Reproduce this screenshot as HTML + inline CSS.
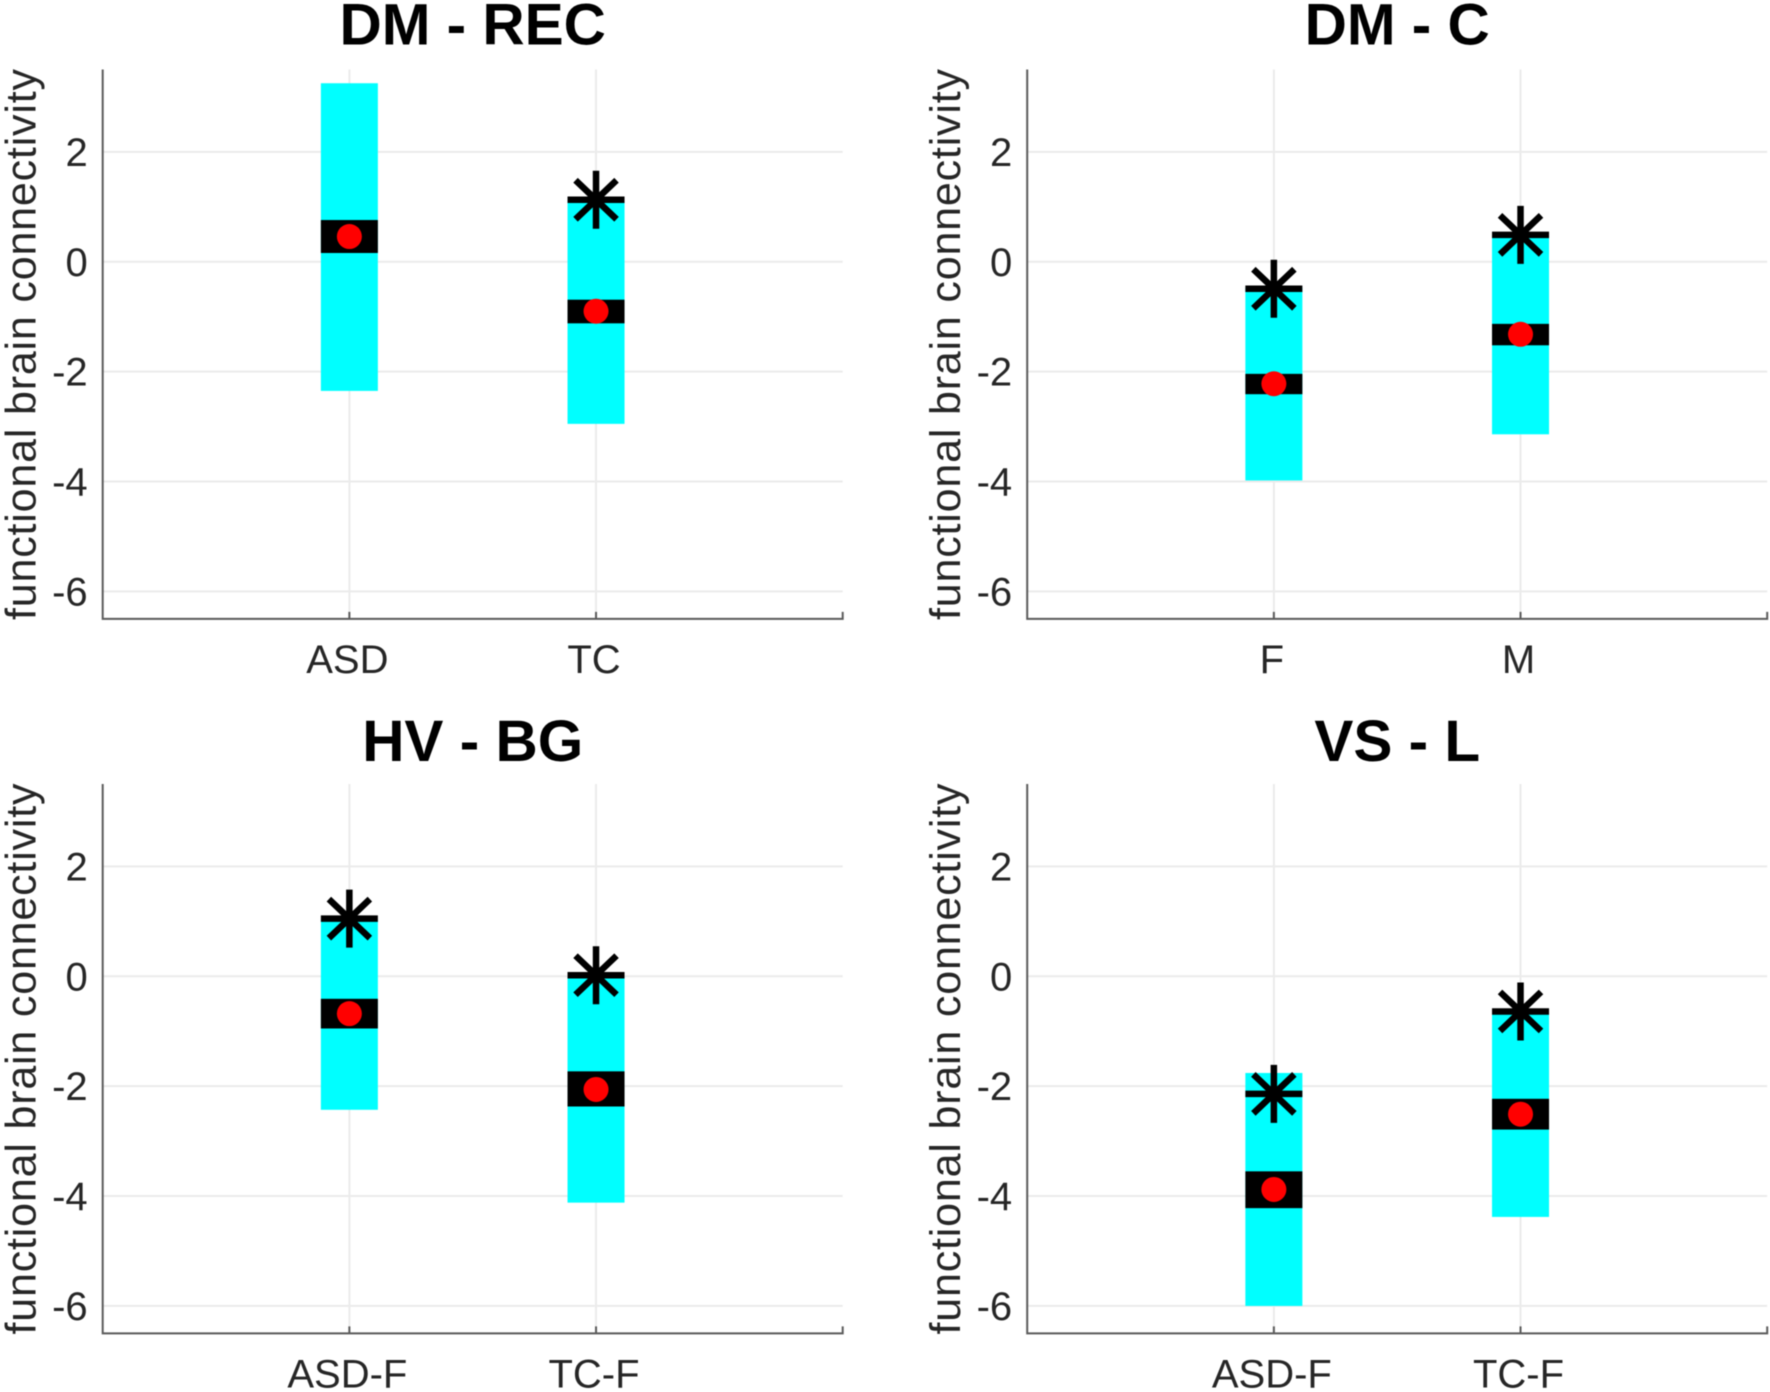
<!DOCTYPE html>
<html lang="en">
<head>
<meta charset="utf-8">
<title>Functional brain connectivity panels</title>
<style>
  html, body { margin: 0; padding: 0; background: #fff; }
  svg { display: block; font-family: "Liberation Sans", sans-serif; filter: blur(0.5px); }
</style>
</head>
<body>
<svg id="figure" xmlns="http://www.w3.org/2000/svg" width="1770" height="1392" viewBox="0 0 1770 1392"></svg>
<script>
// Data. One inner array per panel, one value per category.
const panelTitles = ["DM - REC", "DM - C", "HV - BG", "VS - L"];
const categories = [["ASD", "TC"], ["F", "M"], ["ASD-F", "TC-F"], ["ASD-F", "TC-F"]];
const rangeLow = [[-2.35, -2.95], [-3.98, -3.14], [-2.43, -4.12], [-6.0, -4.38]];
const rangeHigh = [[3.25, 1.1], [-0.47, 0.49], [1.03, 0.0], [-1.76, -0.66]];
const bandLow = [[0.16, -1.12], [-2.41, -1.52], [-0.95, -2.37], [-4.22, -2.79]];
const bandHigh = [[0.76, -0.69], [-2.04, -1.13], [-0.41, -1.73], [-3.55, -2.23]];
const means = [[0.46, -0.9], [-2.22, -1.32], [-0.68, -2.06], [-3.88, -2.51]];
const stars = [[null, 1.13], [-0.49, 0.49], [1.05, 0.02], [-2.14, -0.64]];
const yTickValues = [-6, -4, -2, 0, 2];
const yAxisTitle = "functional brain connectivity";
const yLimits = [-6.5, 3.5];
const xLimits = [0, 3];

// Layout of the figure
const columnLeft = [102.7, 1027.2];
const rowTop = [69.5, 784];
const titleOffset = [25, 23];
const plotWidth = 740;
const plotHeight = 549.4;
const barWidth = 57;
const NS = "http://www.w3.org/2000/svg";
const svg = document.getElementById("figure");

function node(parent, tag, attrs, text) {
  const el = document.createElementNS(NS, tag);
  for (const key in attrs) el.setAttribute(key, attrs[key]);
  if (text !== undefined) el.textContent = text;
  parent.appendChild(el);
  return el;
}

panelTitles.forEach(function (title, p) {
  const row = Math.floor(p / 2);
  const left = columnLeft[p % 2];
  const top = rowTop[row];
  const right = left + plotWidth;
  const bottom = top + plotHeight;
  const xScale = function (v) { return left + (v - xLimits[0]) / (xLimits[1] - xLimits[0]) * plotWidth; };
  const yScale = function (v) { return bottom - (v - yLimits[0]) / (yLimits[1] - yLimits[0]) * plotHeight; };

  const panel = node(svg, "g", {});
  
  

  const titleEl = node(panel, "text", { x: left + plotWidth / 2, y: top - titleOffset[row], "text-anchor": "middle", "font-size": 58.5, "font-weight": "bold", fill: "#000" }, title);
  
  

  // horizontal grid + y tick labels
  yTickValues.forEach(function (t) {
    const y = yScale(t);
    const grid = node(panel, "line", { x1: left, x2: right, y1: y, y2: y, stroke: "#ebebeb", "stroke-width": 2 });
    
    
    const label = node(panel, "text", { x: left - 15, y: y + 14, "text-anchor": "end", "font-size": 40, fill: "#262626" }, String(t));
    
    
  });

  // vertical grid + x tick labels
  categories[p].forEach(function (c, i) {
    const x = xScale(i + 1);
    const grid = node(panel, "line", { x1: x, x2: x, y1: top, y2: bottom, stroke: "#ebebeb", "stroke-width": 2 });
    
    
    const label = node(panel, "text", { x: x - 2, y: bottom + 54, "text-anchor": "middle", "font-size": 40, fill: "#262626" }, c);
    
    
  });

  // marks
  categories[p].forEach(function (c, i) {
    const x = xScale(i + 1);
    const yHi = yScale(rangeHigh[p][i]);
    const yLo = yScale(rangeLow[p][i]);
    const range = node(panel, "rect", { x: x - barWidth / 2, y: yHi, width: barWidth, height: yLo - yHi, fill: "#00ffff" });
    
    

    const bHi = yScale(bandHigh[p][i]);
    const bLo = yScale(bandLow[p][i]);
    const band = node(panel, "rect", { x: x - barWidth / 2, y: bHi, width: barWidth, height: bLo - bHi, fill: "#000" });
    
    

    const dot = node(panel, "circle", { cx: x, cy: yScale(means[p][i]), r: 12.5, fill: "#ff0000" });
    
    

    if (stars[p][i] !== null) {
      const sy = yScale(stars[p][i]);
      const star = node(panel, "path", {
        d: "M" + (x - barWidth / 2) + " " + sy + "H" + (x + barWidth / 2) +
           "M" + x + " " + (sy - 29) + "V" + (sy + 29) +
           "M" + (x - 20.5) + " " + (sy - 19.5) + "L" + (x + 20.5) + " " + (sy + 19.5) +
           "M" + (x - 20.5) + " " + (sy + 19.5) + "L" + (x + 20.5) + " " + (sy - 19.5),
        stroke: "#000", "stroke-width": 6.5, fill: "none"
      });
      
      
    }
  });

  // axes lines and ticks
  const axes = node(panel, "path", {
    d: "M" + left + " " + top + "V" + bottom + "H" + right + "V" + (bottom - 7) +
       "M" + xScale(1) + " " + bottom + "V" + (bottom - 7) +
       "M" + xScale(2) + " " + bottom + "V" + (bottom - 7),
    stroke: "#5a5a5a", "stroke-width": 2, fill: "none"
  });
  
  

  const yc = top + 275;
  const xt = left - 67;
  const yLabel = node(panel, "text", { x: xt, y: yc, transform: "rotate(-90 " + xt + " " + yc + ")", "text-anchor": "middle", "font-size": 43, fill: "#262626", textLength: 551, lengthAdjust: "spacing" }, yAxisTitle);
  
  
});
</script>
</body>
</html>
